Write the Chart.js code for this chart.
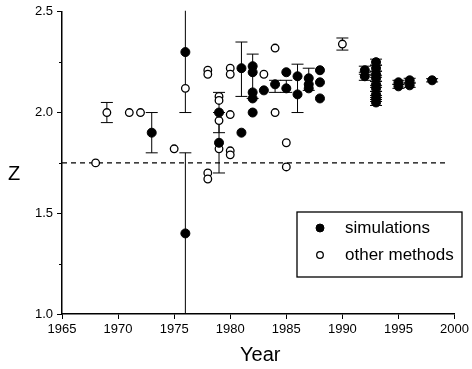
<!DOCTYPE html>
<html>
<head>
<meta charset="utf-8">
<script src="https://cdn.jsdelivr.net/npm/chart.js@4/dist/chart.umd.min.js"></script>
<style>
  html, body { margin: 0; padding: 0; background: #fff; }
  #wrap { width: 472px; height: 369px; }
</style>
</head>
<body>
<div id="wrap"><canvas id="c" width="472" height="369"></canvas></div>
<script>
// Simulation estimates of Z by year (null = no error bar)
const simYears = [1973, 1976, 1976, 1979, 1979, 1981, 1981,
  1982, 1982, 1982, 1982, 1982, 1983, 1984, 1985, 1985,
  1986, 1986, 1987, 1987, 1987, 1988, 1988, 1988,
  1992, 1992,
  1993, 1993, 1993, 1993, 1993, 1993, 1993, 1993, 1993,
  1995, 1995, 1996, 1996, 1998];
const simZ = [1.90, 2.30, 1.40, 2.00, 1.85, 1.90, 2.22,
  2.23, 2.20, 2.10, 2.07, 2.00, 2.11, 2.14, 2.20, 2.12,
  2.18, 2.09, 2.17, 2.14, 2.12, 2.21, 2.15, 2.07,
  2.21, 2.18,
  2.25, 2.22, 2.19, 2.17, 2.14, 2.12, 2.09, 2.07, 2.05,
  2.15, 2.13, 2.16, 2.135, 2.16];
const simLow = [1.80, 2.00, 1.00, 1.90, 1.70, null, 2.08,
  null, 2.07, null, null, null, null, 2.10, null, 2.10,
  null, 2.00, null, 2.11, null, null, null, null,
  2.19, 2.16,
  2.235, 2.205, 2.175, 2.155, 2.125, 2.105, 2.075, 2.055, 2.035,
  2.14, 2.12, 2.15, 2.125, 2.152];
const simHigh = [2.00, 2.60, 1.80, 2.10, 2.00, null, 2.35,
  null, 2.29, null, null, null, null, 2.16, null, 2.16,
  null, 2.24, null, 2.22, null, null, null, null,
  2.23, 2.20,
  2.265, 2.235, 2.205, 2.185, 2.155, 2.135, 2.105, 2.085, 2.065,
  2.16, 2.14, 2.17, 2.145, 2.168];

// Estimates of Z from other methods
const otherYears = [1968, 1969, 1971, 1972, 1975, 1976,
  1978, 1978, 1978, 1978,
  1979, 1979, 1979, 1979,
  1980, 1980, 1980, 1980, 1980,
  1983, 1984, 1984, 1985, 1985, 1990];
const otherZ = [1.75, 2.00, 2.00, 2.00, 1.82, 2.12,
  2.21, 2.19, 1.70, 1.67,
  2.08, 2.06, 1.96, 1.82,
  2.22, 2.19, 1.99, 1.81, 1.79,
  2.19, 2.32, 2.00, 1.85, 1.73, 2.34];
const otherLow = [null, 1.95, null, null, null, null,
  null, null, null, null,
  null, null, null, null,
  null, null, null, null, null,
  null, null, null, null, null, 2.31];
const otherHigh = [null, 2.05, null, null, null, null,
  null, null, null, null,
  null, null, null, null,
  null, null, null, null, null,
  null, null, null, null, null, 2.37];

// Dashed reference level
const refYears = [1965, 1999.5];
const refZ = [1.75, 1.75];

// Axis ticks
const xTicks = [1965, 1970, 1975, 1980, 1985, 1990, 1995, 2000];
const yTicks = [1.0, 1.5, 2.0, 2.5];
const yMinorTicks = [1.25, 1.75, 2.25];

const FONT = "'Liberation Sans', Arial, sans-serif";
Chart.defaults.font.family = FONT;
Chart.defaults.font.size = 13;
Chart.defaults.color = '#000';

const toPoints = (xs, ys) => xs.map((x, i) => ({ x: x, y: ys[i] }));

// Vertical error bars with caps, drawn under the markers
const errorBars = {
  id: 'errorBars',
  beforeDatasetsDraw(chart) {
    const { ctx, chartArea, scales } = chart;
    ctx.save();
    ctx.beginPath();
    ctx.rect(chartArea.left, chartArea.top - 1, chartArea.right - chartArea.left, chartArea.bottom - chartArea.top + 1);
    ctx.clip();
    ctx.strokeStyle = '#000';
    ctx.lineWidth = 1;
    const cap = 6;
    chart.data.datasets.forEach(ds => {
      if (!ds.errLow) return;
      ds.data.forEach((p, i) => {
        const lo = ds.errLow[i], hi = ds.errHigh[i];
        if (lo == null || hi == null) return;
        const px = scales.x.getPixelForValue(p.x);
        const y1 = scales.y.getPixelForValue(lo);
        const y2 = scales.y.getPixelForValue(hi);
        ctx.beginPath();
        ctx.moveTo(px, y1); ctx.lineTo(px, y2);
        ctx.moveTo(px - cap, y1); ctx.lineTo(px + cap, y1);
        ctx.moveTo(px - cap, y2); ctx.lineTo(px + cap, y2);
        ctx.stroke();
      });
    });
    ctx.restore();
  }
};

// Short minor ticks on the Z axis, axis titles and the boxed legend
const decorations = {
  id: 'decorations',
  afterDraw(chart, args, opts) {
    const { ctx, chartArea, scales } = chart;
    ctx.save();
    ctx.strokeStyle = '#000';
    ctx.lineWidth = 1;
    yMinorTicks.forEach(v => {
      const py = Math.round(scales.y.getPixelForValue(v)) + 0.5;
      ctx.beginPath();
      ctx.moveTo(chartArea.left, py);
      ctx.lineTo(chartArea.left - 3, py);
      ctx.stroke();
    });

    ctx.fillStyle = '#000';
    ctx.font = '20px ' + FONT;
    ctx.textAlign = 'center';
    ctx.textBaseline = 'middle';
    ctx.fillText('Year', (chartArea.left + chartArea.right) / 2 + 2, 355);
    ctx.fillText('Z', 14, 174);

    // legend box
    const L = opts.legend;
    ctx.lineWidth = 1.3;
    ctx.strokeRect(L.x, L.y, L.w, L.h);
    ctx.font = L.fontSize + 'px ' + FONT;
    ctx.textAlign = 'left';
    const items = chart.data.datasets.filter(d => d.label);
    items.forEach((d, i) => {
      const cy = L.y + L.firstRow + i * L.rowGap;
      ctx.beginPath();
      ctx.arc(L.x + L.markerX, cy, d.legendRadius, 0, Math.PI * 2);
      ctx.fillStyle = d.backgroundColor;
      ctx.fill();
      ctx.lineWidth = d.borderWidth;
      ctx.strokeStyle = d.borderColor;
      ctx.stroke();
      ctx.fillStyle = '#000';
      ctx.fillText(d.label, L.x + L.textX, cy);
    });
    ctx.restore();
  }
};

new Chart(document.getElementById('c'), {
  type: 'scatter',
  data: {
    datasets: [
      {
        label: 'simulations',
        data: toPoints(simYears, simZ),
        errLow: simLow, errHigh: simHigh,
        pointRadius: 4.5,
        backgroundColor: '#000', borderColor: '#000', borderWidth: 1,
        legendRadius: 4
      },
      {
        label: 'other methods',
        data: toPoints(otherYears, otherZ),
        errLow: otherLow, errHigh: otherHigh,
        pointRadius: 3.8,
        backgroundColor: '#fff', borderColor: '#000', borderWidth: 1.3,
        legendRadius: 3.3
      },
      {
        type: 'line',
        label: '',
        data: toPoints(refYears, refZ),
        borderColor: '#000', borderWidth: 1.2, borderDash: [5, 4],
        pointRadius: 0, fill: false
      }
    ]
  },
  options: {
    responsive: false,
    devicePixelRatio: 1,
    animation: false,
    events: [],
    layout: { padding: { top: 11, right: 15, left: 0, bottom: 0 } },
    plugins: {
      legend: { display: false },
      tooltip: { enabled: false },
      decorations: {
        legend: { x: 297, y: 212, w: 165, h: 65, markerX: 23, textX: 48,
                  firstRow: 16, rowGap: 27, fontSize: 17 }
      }
    },
    scales: {
      x: {
        type: 'linear', min: 1965, max: 2000,
        afterBuildTicks: s => { s.ticks = xTicks.map(v => ({ value: v })); },
        afterFit: s => { s.height = 55; },
        ticks: { callback: v => String(v), padding: 3, maxRotation: 0, font: { size: 13 } },
        grid: { drawOnChartArea: false, drawTicks: true, tickLength: 5, tickColor: '#000', tickWidth: 1 },
        border: { display: true, color: '#000', width: 1.5 }
      },
      y: {
        type: 'linear', min: 1.0, max: 2.5,
        afterBuildTicks: s => { s.ticks = yTicks.map(v => ({ value: v })); },
        afterFit: s => { s.width = 62; },
        ticks: { callback: v => v.toFixed(1), padding: 4, font: { size: 13 } },
        grid: { drawOnChartArea: false, drawTicks: true, tickLength: 5, tickColor: '#000', tickWidth: 1 },
        border: { display: true, color: '#000', width: 1.5 }
      }
    }
  },
  plugins: [errorBars, decorations]
});
</script>
</body>
</html>
